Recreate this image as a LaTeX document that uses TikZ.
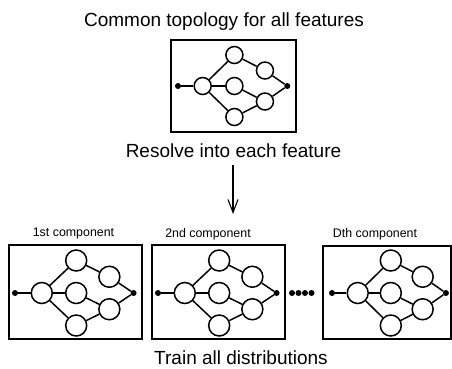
\documentclass[tikz,border=0pt]{standalone}
\usepackage{fontspec}
\setmainfont{Liberation Sans}
\usetikzlibrary{arrows.meta}
\tikzset{
  frame/.style={draw, line width=1.9pt},
  state/.style={draw, circle, line width=1.5pt, inner sep=0pt},
  term/.style={fill, circle, inner sep=0pt, minimum size=6pt},
  edge/.style={line width=1.5pt},
  title/.style={font=\fontsize{19}{22}\selectfont},
  comp/.style={font=\fontsize{12.4}{14}\selectfont},
}
% #1 prefix, #2 x of left dot, #3 y of center line, #4 horizontal unit, #5 vertical unit, #6 circle size
\newcommand\mynet[6]{%
  \node[term] (#1s) at (#2,#3) {};
  \node[state, minimum size=#6] (#1a) at (#2+1.05*#4,#3) {};
  \node[state, minimum size=#6] (#1b) at (#2+2.4*#4,#3-#5) {};
  \node[state, minimum size=#6] (#1c) at (#2+2.4*#4,#3) {};
  \node[state, minimum size=#6] (#1d) at (#2+2.4*#4,#3+#5) {};
  \node[state, minimum size=#6] (#1e) at (#2+3.7*#4,#3-0.5*#5) {};
  \node[state, minimum size=#6] (#1f) at (#2+3.7*#4,#3+0.5*#5) {};
  \node[term] (#1t) at (#2+4.65*#4,#3) {};
  \draw[edge] (#1s) -- (#1a);
  \draw[edge] (#1a) -- (#1b);
  \draw[edge] (#1a) -- (#1c);
  \draw[edge] (#1a) -- (#1d);
  \draw[edge] (#1b) -- (#1e);
  \draw[edge] (#1c) -- (#1f);
  \draw[edge] (#1d) -- (#1f);
  \draw[edge] (#1e) -- (#1t);
  \draw[edge] (#1f) -- (#1t);
}
\begin{document}
\begin{tikzpicture}[x=1pt,y=-1pt]
\useasboundingbox (0,0) rectangle (452,368);
% top
\node[title] (t1) at (224,22) {Common topology for all features};
\draw[frame] (171,40) rectangle (296,132);
\mynet{top}{178}{86}{23.5}{31}{17pt}
\node[title] (t2) at (233.5,151) {Resolve into each feature};
\coordinate (arrS) at (233,165);
\coordinate (arrE) at (233,214);
\draw[line width=1.1pt, -{Straight Barb[length=13pt,width=10pt]}] (arrS) -- (arrE);
% bottom boxes
\node[comp] (l1) at (73.5,234) {1st component};
\draw[frame] (9,245) rectangle (142,339);
\mynet{p}{15}{293}{25.5}{32.5}{21pt}
\node[comp] (l2) at (208,234) {2nd component};
\draw[frame] (152,245) rectangle (285,339);
\mynet{q}{158}{293}{25.5}{32.5}{21pt}
\node[comp] (l3) at (375,234) {Dth component};
\draw[frame] (323,246) rectangle (451,339);
\mynet{r}{332}{293}{24.5}{32.5}{21pt}
% dots
\foreach \i/\xx in {1/292,2/298.5,3/305,4/311.5} {
  \node[term] (dot\i) at (\xx,293) {};
}
\node[title] (t3) at (241,358) {Train all distributions};
\end{tikzpicture}
\end{document}
